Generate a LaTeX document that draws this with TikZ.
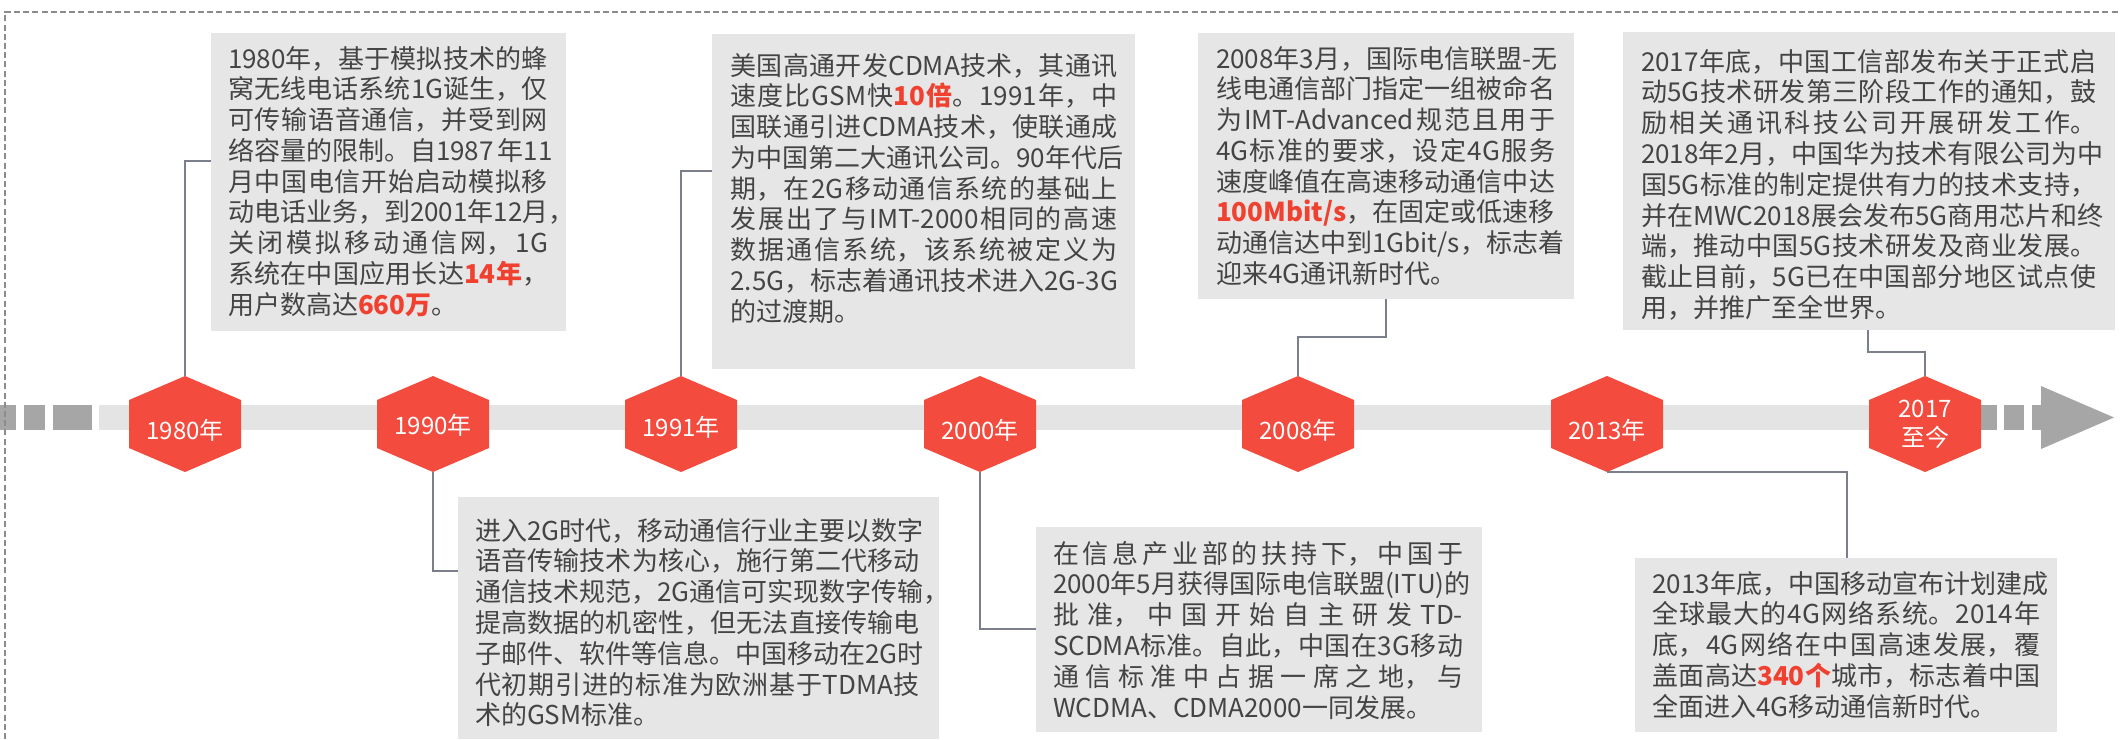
\documentclass[tikz,border=0pt]{standalone}
\usepackage{fontspec}
\setmainfont{Noto Sans CJK SC}
\XeTeXlinebreaklocale "zh"
\XeTeXlinebreakskip=0pt plus 8pt
\XeTeXlinebreakpenalty=10000
\exhyphenpenalty=10000
\hyphenpenalty=10000
\definecolor{hexred}{HTML}{F34B3D}
\definecolor{hlred}{HTML}{F0402F}
\definecolor{boxgray}{HTML}{E6E6E6}
\definecolor{txtgray}{HTML}{444444}
\definecolor{bargray}{HTML}{E4E4E4}
\definecolor{blockgray}{HTML}{A6A6A6}
\definecolor{conngray}{HTML}{7B7F8C}
\definecolor{bordergray}{HTML}{8C8C8C}
\newcommand\hl[1]{\textcolor{hlred}{\textbf{#1}}}
\newcommand\hexnode[4]{%
  \fill[hexred] (#2-56,400) -- (#2,376) -- (#2+56,400) -- (#2+56,448) -- (#2,472) -- (#2-56,448) -- cycle;
  \node[hexlab] (#1) at (#2,#4) {#3};
  \coordinate (#1t) at (#2,376);
  \coordinate (#1b) at (#2,472);
}
\begin{document}
\begin{tikzpicture}[x=0.5pt,y=-0.5pt,
  boxst/.style={fill=boxgray,draw=none,inner sep=0pt,outer sep=0pt,anchor=north west},
  txt/.style={text=txtgray,font=\fontsize{13pt}{15.4pt}\selectfont,align=justify,inner sep=0pt,outer sep=0pt,anchor=base west},
  hexlab/.style={text=white,font=\fontsize{12pt}{14.5pt}\selectfont,align=center,inner sep=0pt},
  conn/.style={draw=conngray,line width=0.8pt},
  border/.style={draw=bordergray,line width=0.7pt,dash pattern=on 3pt off 1.6pt}]
\useasboundingbox (0,0) rectangle (2120,739);
\fill[white] (0,0) rectangle (2120,739);

% timeline bar
\fill[bargray] (99,405) rectangle (1981,430);
\fill[blockgray] (0,405) rectangle (16,430);
\fill[blockgray] (24,405) rectangle (45,430);
\fill[blockgray] (53,405) rectangle (92,430);
\fill[blockgray] (1981,405) rectangle (1997,430);
\fill[blockgray] (2004,405) rectangle (2024,430);
\fill[blockgray] (2032,405) rectangle (2042,430);
\fill[blockgray] (2041,386) -- (2114,417.5) -- (2041,449) -- cycle;

% boxes
\node[boxst,minimum width=177.5pt,minimum height=149pt] (b1980) at (211,33) {};
\node[boxst,minimum width=211.5pt,minimum height=167.5pt] (b1991) at (712,34) {};
\node[boxst,minimum width=188pt,minimum height=133pt] (b2008) at (1198,33) {};
\node[boxst,minimum width=246pt,minimum height=149pt] (b2017) at (1623,32) {};
\node[boxst,minimum width=240.5pt,minimum height=121pt] (b1990) at (458,497) {};
\node[boxst,minimum width=223pt,minimum height=102.5pt] (b2000) at (1036,527) {};
\node[boxst,minimum width=211pt,minimum height=87pt] (b2013) at (1635,558) {};

% connector anchor points
\coordinate (c1980) at (211,161);
\coordinate (c1990) at (458,571);
\coordinate (c1991) at (712,171);
\coordinate (c2000) at (1036,629);
\coordinate (c2008) at (1386,299);
\coordinate (k2008) at (1386,337);
\coordinate (c2013) at (1847,558);
\coordinate (c2017) at (1868,330);
\coordinate (k2017) at (1868,352);

% hexagons
\hexnode{h1980}{185}{1980年}{430}
\hexnode{h1990}{433}{1990年}{425}
\hexnode{h1991}{681}{1991年}{427}
\hexnode{h2000}{980}{2000年}{430}
\hexnode{h2008}{1298}{2008年}{430}
\hexnode{h2013}{1607}{2013年}{430}
\hexnode{h2017}{1925}{2017\\至今}{424}

% connectors
\draw[conn] (c1980) -| (h1980t);
\draw[conn] (h1990b) |- (c1990);
\draw[conn] (c1991) -| (h1991t);
\draw[conn] (h2000b) |- (c2000);
\draw[conn] (c2008) -- (k2008) -| (h2008t);
\draw[conn] (h2013b) -| (c2013);
\draw[conn] (c2017) -- (k2017) -| (h2017t);

% texts
\node[txt,text width=160pt] (t1980) at (228,68) {1980年，基于模拟技术的蜂\linebreak
窝无线电话系统1G诞生，仅\linebreak
可传输语音通信，并受到网\linebreak
络容量的限制。自1987~年11\linebreak
月中国电信开始启动模拟移\linebreak
动电话业务，到2001年12月，\linebreak
关闭模拟移动通信网，1G\linebreak
系统在中国应用长达\hl{14年}，\linebreak
用户数高达\hl{660万}。};

\node[txt,text width=193.5pt] (t1991) at (730.5,75) {美国高通开发CDMA技术，其通讯\linebreak
速度比GSM快\hl{10倍}。1991年，中\linebreak
国联通引进CDMA技术，使联通成\linebreak
为中国第二大通讯公司。90年代后\linebreak
期，在2G移动通信系统的基础上\linebreak
发展出了与IMT-2000相同的高速\linebreak
数据通信系统，该系统被定义为\linebreak
2.5G，标志着通讯技术进入2G-3G\linebreak
的过渡期。};

\node[txt,text width=169.5pt] (t2008) at (1216,68) {2008年3月，国际电信联盟-无\linebreak
线电通信部门指定一组被命名\linebreak
为IMT-Advanced规范且用于\linebreak
4G标准的要求，设定4G服务\linebreak
速度峰值在高速移动通信中达\linebreak
\hl{100Mbit/s}，在固定或低速移\linebreak
动通信达中到1Gbit/s，标志着\linebreak
迎来4G通讯新时代。};

\node[txt,text width=227.5pt] (t2017) at (1641,71) {2017年底，中国工信部发布关于正式启\linebreak
动5G技术研发第三阶段工作的通知，鼓\linebreak
励相关通讯科技公司开展研发工作。\linebreak
2018年2月，中国华为技术有限公司为中\linebreak
国5G标准的制定提供有力的技术支持，\linebreak
并在MWC2018展会发布5G商用芯片和终\linebreak
端，推动中国5G技术研发及商业发展。\linebreak
截止目前，5G已在中国部分地区试点使\linebreak
用，并推广至全世界。};

\node[txt,text width=222.5pt] (t1990) at (475,540) {进入2G时代，移动通信行业主要以数字\linebreak
语音传输技术为核心，施行第二代移动\linebreak
通信技术规范，2G通信可实现数字传输，\linebreak
提高数据的机密性，但无法直接传输电\linebreak
子邮件、软件等信息。中国移动在2G时\linebreak
代初期引进的标准为欧洲基于TDMA技\linebreak
术的GSM标准。};

\node[txt,text width=205pt] (t2000) at (1053,563) {在信息产业部的扶持下，中国于\linebreak
2000年5月获得国际电信联盟(ITU)的\linebreak
批准，中国开始自主研发TD-\linebreak
SCDMA标准。自此，中国在3G移动\linebreak
通信标准中占据一席之地，与\linebreak
WCDMA、CDMA2000一同发展。};

\node[txt,text width=194pt] (t2013) at (1652.5,593) {2013年底，中国移动宣布计划建成\linebreak
全球最大的4G网络系统。2014年\linebreak
底，4G网络在中国高速发展，覆\linebreak
盖面高达\hl{340个}城市，标志着中国\linebreak
全面进入4G移动通信新时代。};

% dashed frame
\draw[border] (5,739) -- (5,12) -- (2120,12);
\end{tikzpicture}
\end{document}
